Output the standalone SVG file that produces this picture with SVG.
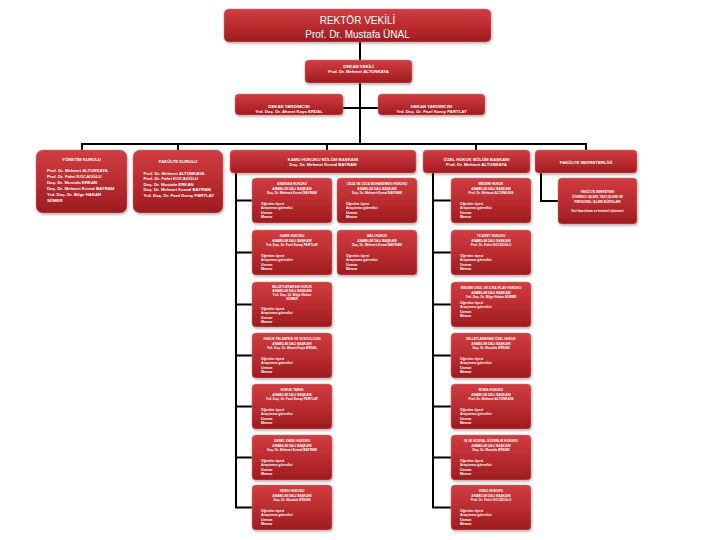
<svg xmlns="http://www.w3.org/2000/svg" width="720" height="540" viewBox="0 0 720 540">
<defs>
<linearGradient id="rg" x1="0" y1="0" x2="0" y2="1">
<stop offset="0" stop-color="#cf3d41"/>
<stop offset="0.5" stop-color="#bb2c30"/>
<stop offset="1" stop-color="#9c1c20"/>
</linearGradient>
<filter id="sh" x="-10%" y="-10%" width="125%" height="135%">
<feDropShadow dx="0.8" dy="1.5" stdDeviation="1" flood-color="#000" flood-opacity="0.3"/>
</filter>
</defs>
<style>
.b{fill:url(#rg);stroke:#d9787a;stroke-width:0.5;filter:url(#sh)}
text{fill:#fff;font-family:"Liberation Sans",Arial,sans-serif}
.t{font-size:10px;text-anchor:middle}
.m{font-size:4.3px;font-weight:bold;text-anchor:middle}
.s{font-size:4.3px;font-weight:bold}
.h{font-size:3.2px;font-weight:bold;text-anchor:middle}
.l{font-size:3.5px;font-weight:bold}
.c{stroke:#000;stroke-width:2;fill:none}
</style>
<rect width="720" height="540" fill="#fff"/>
<g id="connectors">
<path class="c" d="M360 42V60M360 83V144M343 108H378M82 144H586M82 143V150M178 143V150M327 143V150M476 143V150M586 143V150"/>
<path class="c" d="M236 173V508M235 200.5H252M235 252.5H252M235 304.5H252M235 355.5H252M235 406.5H252M235 457.5H252M235 507.5H252"/>
<path class="c" d="M433 173V508M432 200.5H451M432 252.5H451M432 304.5H451M432 355.5H451M432 406.5H451M432 457.5H451M432 507.5H451"/>
<path class="c" d="M541 173V201H558"/>
</g>
<g id="rektor"><rect class="b" x="224" y="9" width="267" height="33" rx="5"/>
<text class="t" x="357.5" y="24">REKTÖR VEKİLİ</text><text class="t" x="357.5" y="37.5">Prof. Dr. Mustafa ÜNAL</text></g>
<g id="dekan"><rect class="b" x="305" y="60" width="107" height="23" rx="4"/>
<text class="m" x="358.5" y="68">DEKAN VEKİLİ</text><text class="m" x="358.5" y="73">Prof. Dr. Mehmet ALTUNKAYA</text></g>
<g id="dekan-yrd-1"><rect class="b" x="235" y="94" width="108" height="21" rx="4"/>
<text class="m" x="289" y="107.5">DEKAN YARDIMCISI</text><text class="m" x="289" y="112.5">Yrd. Doç. Dr. Ahmet Kaya ERDAL</text></g>
<g id="dekan-yrd-2"><rect class="b" x="378" y="94" width="107" height="21" rx="4"/>
<text class="m" x="431.5" y="107.5">DEKAN YARDIMCISI</text><text class="m" x="431.5" y="112.5">Yrd. Doç. Dr. Fazıl Koray PARTLAY</text></g>
<g id="yonetim"><rect class="b" x="36" y="150" width="91" height="63" rx="7"/>
<text class="m" x="81.5" y="160.5">YÖNETİM KURULU</text>
<text class="s" x="47" y="171.5">Prof. Dr. Mehmet ALTUNKAYA</text>
<text class="s" x="47" y="177.5">Prof. Dr. Fahri KOCAOĞLU</text>
<text class="s" x="47" y="183.5">Doç. Dr. Mustafa ERKAN</text>
<text class="s" x="47" y="189.5">Doç. Dr. Mehmet Kemal BAYRAM</text>
<text class="s" x="47" y="195.5">Yrd. Doç. Dr. Bilge HAKAN</text>
<text class="s" x="47" y="201.5">SÜMER</text></g>
<g id="fakulte"><rect class="b" x="133" y="150" width="90" height="63" rx="7"/>
<text class="m" x="178" y="162.5">FAKÜLTE KURULU</text>
<text class="s" x="143.5" y="174.5">Prof. Dr. Mehmet ALTUNKAYA</text>
<text class="s" x="143.5" y="180">Prof. Dr. Fahri KOCAOĞLU</text>
<text class="s" x="143.5" y="185.5">Doç. Dr. Mustafa ERKAN</text>
<text class="s" x="143.5" y="191">Doç. Dr. Mehmet Kemal BAYRAM</text>
<text class="s" x="143.5" y="196.5">Yrd. Doç. Dr. Fazıl Koray PARTLAY</text></g>
<g id="kamu"><rect class="b" x="230" y="150" width="186" height="23" rx="4"/>
<text class="m" x="323" y="160.5">KAMU HUKUKU BÖLÜM BAŞKANI</text><text class="m" x="323" y="165.5">Doç. Dr. Mehmet Kemal BAYRAM</text></g>
<g id="ozel"><rect class="b" x="423" y="150" width="107" height="23" rx="4"/>
<text class="m" x="476.5" y="160.5">ÖZEL HUKUK BÖLÜM BAŞKANI</text><text class="m" x="476.5" y="165.5">Prof. Dr. Mehmet ALTUNKAYA</text></g>
<g id="sekreterlik"><rect class="b" x="535" y="150" width="102" height="23" rx="4"/>
<text class="m" x="586" y="163.5">FAKÜLTE SEKRETERLİĞİ</text></g>
<g id="sekreter"><rect class="b" x="558" y="178" width="79" height="46" rx="4"/>
<text class="h" x="597.5" y="193">FAKÜLTE SEKRETERİ</text>
<text class="h" x="597.5" y="198">ÖĞRENCİ İŞLERİ, YAZI İŞLERİ VE</text>
<text class="h" x="597.5" y="203">PERSONEL İŞLERİ BÜROLARI</text>
<text class="h" x="597.5" y="212">Veri hazırlama ve kontrol işletmeni</text></g>
<g id="kamu-1" transform="translate(252,178)"><rect class="b" width="80" height="45" rx="4"/>
<text class="h" x="40" y="7">ANAYASA HUKUKU</text><text class="h" x="40" y="11.5">ANABİLİM DALI BAŞKANI</text><text class="h" x="40" y="16">Doç. Dr. Mehmet Kemal BAYRAM</text>
<text class="l" x="9" y="26.5">Öğretim üyesi</text><text class="l" x="9" y="31">Araştırma görevlisi</text><text class="l" x="9" y="35.5">Uzman</text><text class="l" x="9" y="40">Memur</text></g>
<g id="kamu-2" transform="translate(337,178)"><rect class="b" width="80" height="45" rx="4"/>
<text class="h" x="40" y="7">CEZA VE CEZA MUHAKEMESİ HUKUKU</text><text class="h" x="40" y="11.5">ANABİLİM DALI BAŞKANI</text><text class="h" x="40" y="16">Doç. Dr. Mehmet Kemal BAYRAM</text>
<text class="l" x="9" y="26.5">Öğretim üyesi</text><text class="l" x="9" y="31">Araştırma görevlisi</text><text class="l" x="9" y="35.5">Uzman</text><text class="l" x="9" y="40">Memur</text></g>
<g id="kamu-3" transform="translate(252,230)"><rect class="b" width="80" height="45" rx="4"/>
<text class="h" x="40" y="7">İDARE HUKUKU</text><text class="h" x="40" y="11.5">ANABİLİM DALI BAŞKANI</text><text class="h" x="40" y="16">Yrd. Doç. Dr. Fazıl Koray PARTLAY</text>
<text class="l" x="9" y="26.5">Öğretim üyesi</text><text class="l" x="9" y="31">Araştırma görevlisi</text><text class="l" x="9" y="35.5">Uzman</text><text class="l" x="9" y="40">Memur</text></g>
<g id="kamu-4" transform="translate(337,230)"><rect class="b" width="80" height="45" rx="4"/>
<text class="h" x="40" y="7">MALİ HUKUK</text><text class="h" x="40" y="11.5">ANABİLİM DALI BAŞKANI</text><text class="h" x="40" y="16">Doç. Dr. Mehmet Kemal BAYRAM</text>
<text class="l" x="9" y="26.5">Öğretim üyesi</text><text class="l" x="9" y="31">Araştırma görevlisi</text><text class="l" x="9" y="35.5">Uzman</text><text class="l" x="9" y="40">Memur</text></g>
<g id="kamu-5" transform="translate(252,282)"><rect class="b" width="80" height="45" rx="4"/>
<text class="h" x="40" y="5.5">MİLLETLERARASI HUKUK</text><text class="h" x="40" y="9.5">ANABİLİM DALI BAŞKANI</text><text class="h" x="40" y="13.5">Yrd. Doç. Dr. Bilge Hakan</text><text class="h" x="40" y="17.5">SÜMER</text>
<text class="l" x="9" y="27.5">Öğretim üyesi</text><text class="l" x="9" y="32">Araştırma görevlisi</text><text class="l" x="9" y="36.5">Uzman</text><text class="l" x="9" y="41">Memur</text></g>
<g id="kamu-6" transform="translate(252,333)"><rect class="b" width="80" height="45" rx="4"/>
<text class="h" x="40" y="7">HUKUK FELSEFESİ VE SOSYOLOJİSİ</text><text class="h" x="40" y="11.5">ANABİLİM DALI BAŞKANI</text><text class="h" x="40" y="16">Yrd. Doç. Dr. Ahmet Kaya ERDAL</text>
<text class="l" x="9" y="26.5">Öğretim üyesi</text><text class="l" x="9" y="31">Araştırma görevlisi</text><text class="l" x="9" y="35.5">Uzman</text><text class="l" x="9" y="40">Memur</text></g>
<g id="kamu-7" transform="translate(252,384)"><rect class="b" width="80" height="45" rx="4"/>
<text class="h" x="40" y="7">HUKUK TARİHİ</text><text class="h" x="40" y="11.5">ANABİLİM DALI BAŞKANI</text><text class="h" x="40" y="16">Yrd. Doç. Dr. Fazıl Koray PARTLAY</text>
<text class="l" x="9" y="26.5">Öğretim üyesi</text><text class="l" x="9" y="31">Araştırma görevlisi</text><text class="l" x="9" y="35.5">Uzman</text><text class="l" x="9" y="40">Memur</text></g>
<g id="kamu-8" transform="translate(252,435)"><rect class="b" width="80" height="45" rx="4"/>
<text class="h" x="40" y="7">GENEL KAMU HUKUKU</text><text class="h" x="40" y="11.5">ANABİLİM DALI BAŞKANI</text><text class="h" x="40" y="16">Doç. Dr. Mehmet Kemal BAYRAM</text>
<text class="l" x="9" y="26.5">Öğretim üyesi</text><text class="l" x="9" y="31">Araştırma görevlisi</text><text class="l" x="9" y="35.5">Uzman</text><text class="l" x="9" y="40">Memur</text></g>
<g id="kamu-9" transform="translate(252,485)"><rect class="b" width="80" height="45" rx="4"/>
<text class="h" x="40" y="7">VERGİ HUKUKU</text><text class="h" x="40" y="11.5">ANABİLİM DALI BAŞKANI</text><text class="h" x="40" y="16">Doç. Dr. Mustafa ERKAN</text>
<text class="l" x="9" y="26.5">Öğretim üyesi</text><text class="l" x="9" y="31">Araştırma görevlisi</text><text class="l" x="9" y="35.5">Uzman</text><text class="l" x="9" y="40">Memur</text></g>
<g id="ozel-1" transform="translate(451,178)"><rect class="b" width="80" height="45" rx="4"/>
<text class="h" x="40" y="7">MEDENİ HUKUK</text><text class="h" x="40" y="11.5">ANABİLİM DALI BAŞKANI</text><text class="h" x="40" y="16">Prof. Dr. Mehmet ALTUNKAYA</text>
<text class="l" x="9" y="26.5">Öğretim üyesi</text><text class="l" x="9" y="31">Araştırma görevlisi</text><text class="l" x="9" y="35.5">Uzman</text><text class="l" x="9" y="40">Memur</text></g>
<g id="ozel-2" transform="translate(451,230)"><rect class="b" width="80" height="45" rx="4"/>
<text class="h" x="40" y="7">TİCARET HUKUKU</text><text class="h" x="40" y="11.5">ANABİLİM DALI BAŞKANI</text><text class="h" x="40" y="16">Prof. Dr. Fahri KOCAOĞLU</text>
<text class="l" x="9" y="26.5">Öğretim üyesi</text><text class="l" x="9" y="31">Araştırma görevlisi</text><text class="l" x="9" y="35.5">Uzman</text><text class="l" x="9" y="40">Memur</text></g>
<g id="ozel-3" transform="translate(451,282)"><rect class="b" width="80" height="45" rx="4"/>
<text class="h" x="40" y="7">MEDENİ USUL VE İCRA İFLAS HUKUKU</text><text class="h" x="40" y="11.5">ANABİLİM DALI BAŞKANI</text><text class="h" x="40" y="16">Yrd. Doç. Dr. Bilge Hakan SÜMER</text>
<text class="l" x="9" y="21.5">Öğretim üyesi</text><text class="l" x="9" y="26">Araştırma görevlisi</text><text class="l" x="9" y="30.5">Uzman</text><text class="l" x="9" y="35">Memur</text></g>
<g id="ozel-4" transform="translate(451,333)"><rect class="b" width="80" height="45" rx="4"/>
<text class="h" x="40" y="7">MİLLETLERARASI ÖZEL HUKUK</text><text class="h" x="40" y="11.5">ANABİLİM DALI BAŞKANI</text><text class="h" x="40" y="16">Doç. Dr. Mustafa ERKAN</text>
<text class="l" x="9" y="26.5">Öğretim üyesi</text><text class="l" x="9" y="31">Araştırma görevlisi</text><text class="l" x="9" y="35.5">Uzman</text><text class="l" x="9" y="40">Memur</text></g>
<g id="ozel-5" transform="translate(451,384)"><rect class="b" width="80" height="45" rx="4"/>
<text class="h" x="40" y="7">ROMA HUKUKU</text><text class="h" x="40" y="11.5">ANABİLİM DALI BAŞKANI</text><text class="h" x="40" y="16">Prof. Dr. Mehmet ALTUNKAYA</text>
<text class="l" x="9" y="26.5">Öğretim üyesi</text><text class="l" x="9" y="31">Araştırma görevlisi</text><text class="l" x="9" y="35.5">Uzman</text><text class="l" x="9" y="40">Memur</text></g>
<g id="ozel-6" transform="translate(451,435)"><rect class="b" width="80" height="45" rx="4"/>
<text class="h" x="40" y="7">İŞ VE SOSYAL GÜVENLİK HUKUKU</text><text class="h" x="40" y="11.5">ANABİLİM DALI BAŞKANI</text><text class="h" x="40" y="16">Doç. Dr. Mustafa ERKAN</text>
<text class="l" x="9" y="26.5">Öğretim üyesi</text><text class="l" x="9" y="31">Araştırma görevlisi</text><text class="l" x="9" y="35.5">Uzman</text><text class="l" x="9" y="40">Memur</text></g>
<g id="ozel-7" transform="translate(451,485)"><rect class="b" width="80" height="45" rx="4"/>
<text class="h" x="40" y="7">DENİZ HUKUKU</text><text class="h" x="40" y="11.5">ANABİLİM DALI BAŞKANI</text><text class="h" x="40" y="16">Prof. Dr. Fahri KOCAOĞLU</text>
<text class="l" x="9" y="26.5">Öğretim üyesi</text><text class="l" x="9" y="31">Araştırma görevlisi</text><text class="l" x="9" y="35.5">Uzman</text><text class="l" x="9" y="40">Memur</text></g>
</svg>
